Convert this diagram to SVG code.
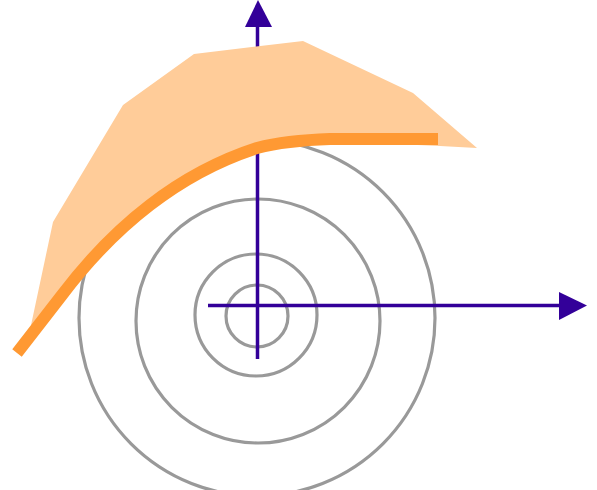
<svg xmlns="http://www.w3.org/2000/svg" width="597" height="490" viewBox="0 0 597 490">
<style>
.ring{fill:none;stroke:#999999;stroke-width:3.2}
.axis{stroke:#330099;stroke-width:3.5;fill:none}
.head{fill:#330099}
</style>
<rect width="597" height="490" fill="#ffffff"/>
<g id="rings">
<circle class="ring" cx="257" cy="316" r="31"/>
<circle class="ring" cx="256" cy="315" r="61"/>
<circle class="ring" cx="258" cy="321" r="122"/>
<circle class="ring" cx="257" cy="318" r="178"/>
</g>
<g id="axes">
<line class="axis" x1="257.5" y1="359" x2="257.5" y2="148"/>
<line class="axis" x1="257.5" y1="60" x2="257.5" y2="24"/>
<polygon class="head" points="258,0 245,27 272,27"/>
<line class="axis" x1="208" y1="305.5" x2="562" y2="305.5"/>
<polygon class="head" points="587,305.5 559,292 559,320"/>
</g>
<g id="region">
<polygon fill="#FFCC99" points="30,330 53,222 123,105 194,54 303,41 413,93 477,148 440,146 350,142 300,143 257,148 230,157 200,171 167,192 130,220 100,248 60,297 17,353"/>
</g>
<g id="boundary">
<path fill="none" stroke="#FF9933" stroke-width="12" stroke-linecap="butt" d="M17,353 L62,295 C90,258 120,228 150,205 C185,178 220,160 257,148 C280,142 300,140 330,139 L438,139"/>
</g>
</svg>
